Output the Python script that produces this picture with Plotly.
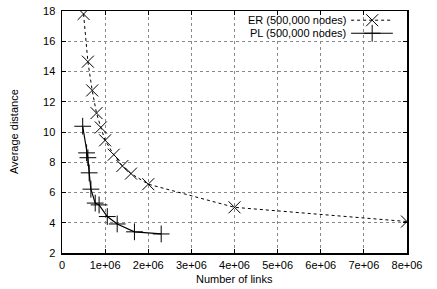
import plotly.graph_objects as go

er_links = [0.5e6, 0.6e6, 0.7e6, 0.8e6, 0.9e6, 1.0e6, 1.2e6, 1.4e6, 1.6e6, 2.0e6, 4.0e6, 8.0e6]
er_dist = [17.8, 14.65, 12.75, 11.25, 10.3, 9.45, 8.5, 7.75, 7.25, 6.55, 5.02, 4.08]

pl_links = [0.48e6, 0.57e6, 0.6e6, 0.63e6, 0.67e6, 0.77e6, 0.86e6, 1.05e6, 1.28e6, 1.68e6, 2.3e6]
pl_dist = [10.38, 8.62, 8.3, 7.3, 6.22, 5.3, 5.18, 4.41, 3.92, 3.4, 3.26]

x_ticks = [0, 1e6, 2e6, 3e6, 4e6, 5e6, 6e6, 7e6, 8e6]
x_ticktext = ["0", "1e+06", "2e+06", "3e+06", "4e+06", "5e+06", "6e+06", "7e+06", "8e+06"]
y_ticks = [2, 4, 6, 8, 10, 12, 14, 16, 18]

er_name = "ER (500,000 nodes)"
pl_name = "PL (500,000 nodes)"
x_title = "Number of links"
y_title = "Average distance"

FONT = "Liberation Sans, Arial, sans-serif"

fig = go.Figure()
fig.add_trace(go.Scatter(
    x=er_links, y=er_dist, mode="lines+markers", name=er_name,
    line=dict(color="black", width=1, dash="dot"),
    marker=dict(symbol="x-thin", size=12, line=dict(color="black", width=1)),
    showlegend=False,
))
fig.add_trace(go.Scatter(
    x=pl_links, y=pl_dist, mode="lines+markers", name=pl_name,
    line=dict(color="black", width=1.2),
    marker=dict(symbol="cross-thin", size=12, line=dict(color="black", width=1)),
    showlegend=False,
))

# custom legend (sample on the right of the text, as in the reference)
leg_x = [0.838, 0.959]
leg_mid = 0.899
leg_y = [0.962, 0.908]
fig.add_trace(go.Scatter(
    x=leg_x, y=[leg_y[0]] * 2, xaxis="x2", yaxis="y2", mode="lines",
    line=dict(color="black", width=1, dash="dot"), showlegend=False, hoverinfo="skip"))
fig.add_trace(go.Scatter(
    x=[leg_mid], y=[leg_y[0]], xaxis="x2", yaxis="y2", mode="markers",
    marker=dict(symbol="x-thin", size=12, line=dict(color="black", width=1)),
    showlegend=False, hoverinfo="skip"))
fig.add_trace(go.Scatter(
    x=leg_x, y=[leg_y[1]] * 2, xaxis="x2", yaxis="y2", mode="lines",
    line=dict(color="black", width=1.2), showlegend=False, hoverinfo="skip"))
fig.add_trace(go.Scatter(
    x=[leg_mid], y=[leg_y[1]], xaxis="x2", yaxis="y2", mode="markers",
    marker=dict(symbol="cross-thin", size=12, line=dict(color="black", width=1)),
    showlegend=False, hoverinfo="skip"))

for name, yy in zip([er_name, pl_name], leg_y):
    fig.add_annotation(x=0.829, y=yy, xref="x2", yref="y2", text=name,
                       showarrow=False, xanchor="right", yanchor="middle",
                       font=dict(family=FONT, size=11, color="black"))

# axis titles
fig.add_annotation(x=0.5, y=-0.107, xref="paper", yref="paper", text=x_title,
                   showarrow=False, xanchor="center", yanchor="middle",
                   font=dict(family=FONT, size=11, color="black"))
fig.add_annotation(x=-0.139, y=0.5, xref="paper", yref="paper", text=y_title,
                   showarrow=False, xanchor="center", yanchor="middle", textangle=-90,
                   font=dict(family=FONT, size=11, color="black"))

fig.update_layout(
    width=437, height=289,
    margin=dict(l=62, r=30, t=11, b=36, autoexpand=False),
    paper_bgcolor="white", plot_bgcolor="white",
    font=dict(family=FONT, size=11, color="black"),
    hovermode=False,
    xaxis=dict(
        range=[0, 8e6], tickvals=x_ticks, ticktext=x_ticktext,
        showline=True, linecolor="black", linewidth=1.5, mirror="allticks",
        ticks="inside", ticklen=4, tickcolor="black", ticklabelstandoff=1,
        showgrid=True, gridcolor="#888888", griddash="dot", gridwidth=1,
        zeroline=False, automargin=False,
    ),
    yaxis=dict(
        range=[2, 18], tickvals=y_ticks,
        showline=True, linecolor="black", linewidth=1.5, mirror="allticks",
        ticks="inside", ticklen=4, tickcolor="black", ticklabelstandoff=3,
        showgrid=True, gridcolor="#888888", griddash="dot", gridwidth=1,
        zeroline=False, automargin=False,
    ),
    xaxis2=dict(range=[0, 1], overlaying="x", visible=False, fixedrange=True),
    yaxis2=dict(range=[0, 1], overlaying="y", visible=False, fixedrange=True),
)

fig.write_html("out.html", config={"displayModeBar": False, "staticPlot": True},
               post_script="document.body.style.margin='0';document.body.style.overflow='hidden';")
